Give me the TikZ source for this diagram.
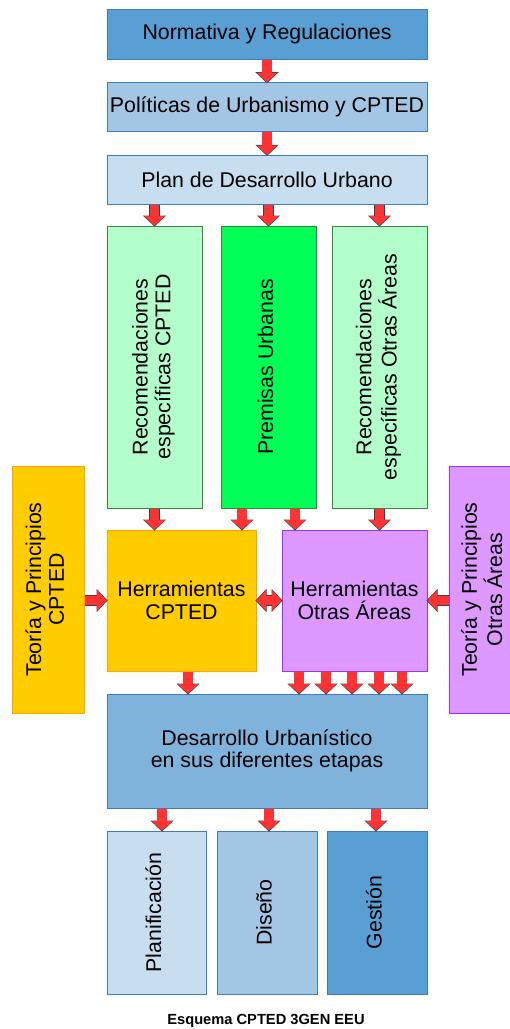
\documentclass[tikz,border=0pt]{standalone}
\usepackage{fontspec}
\setmainfont{Liberation Sans}
\usepackage{graphicx}
\usepackage{tikz}
\usetikzlibrary{positioning,calc,arrows.meta}

\definecolor{azulA}{HTML}{5A9FD4}
\definecolor{azulB}{HTML}{A2C6E4}
\definecolor{azulC}{HTML}{C7DDF0}
\definecolor{azulD}{HTML}{80B3DB}
\definecolor{bordeazul}{HTML}{3B7EB8}
\definecolor{verdeclaro}{HTML}{B3FFCC}
\definecolor{verdevivo}{HTML}{00FF55}
\definecolor{bordeverde}{HTML}{3A873A}
\definecolor{amarillo}{HTML}{FFCC00}
\definecolor{bordeamarillo}{HTML}{FFA500}
\definecolor{lila}{HTML}{DD99FF}
\definecolor{bordelila}{HTML}{9933FF}
\definecolor{rojo}{HTML}{FF3333}

\newcommand{\vtxt}[1]{\rotatebox{90}{\begin{tabular}{@{}c@{}}#1\end{tabular}}}

\tikzset{
  caja/.style={draw, line width=0.75pt, inner sep=0pt, align=center,
    font=\fontsize{16}{17}\selectfont},
  flecha/.style={draw=rojo, line width=7pt, -{Triangle[width=15pt,length=7pt]},
    preaction={draw=black!75, line width=8.2pt,
      -{Triangle[width=17pt,length=8.3pt]}, shorten >=-0.8pt}},
  flechadoble/.style={draw=rojo, line width=7pt,
    {Triangle[width=15pt,length=7pt]}-{Triangle[width=15pt,length=7pt]},
    preaction={draw=black!75, line width=8.2pt,
      {Triangle[width=17pt,length=8.3pt]}-{Triangle[width=17pt,length=8.3pt]},
      shorten >=-0.8pt, shorten <=-0.8pt}},
}

\begin{document}
\begin{tikzpicture}[x=0.75pt,y=-0.75pt]
  \useasboundingbox (0,0) rectangle (510,1029);

  % niveles superiores
  \node[caja, fill=azulA, draw=bordeazul, minimum width=240pt, minimum height=37.5pt]
    (norm) at (267,34) {Normativa y Regulaciones};
  \node[caja, fill=azulB, draw=bordeazul, minimum width=240pt, minimum height=36.75pt,
    below=17pt of norm] (pol) {Políticas de Urbanismo y CPTED};
  \node[caja, fill=azulC, draw=bordeazul, minimum width=240pt, minimum height=36.75pt,
    below=17pt of pol] (plan) {Plan de Desarrollo Urbano};

  % columnas
  \node[caja, fill=verdeclaro, draw=bordeverde, minimum width=71.25pt, minimum height=211.5pt]
    (recc) at (154.5,367) {\vtxt{Recomendaciones\\específicas CPTED}};
  \node[caja, fill=verdevivo, draw=bordeverde, minimum width=71.25pt, minimum height=211.5pt]
    (prem) at (268.5,367) {\vtxt{Premisas Urbanas}};
  \node[caja, fill=verdeclaro, draw=bordeverde, minimum width=71.25pt, minimum height=211.5pt]
    (reco) at (379.5,367) {\vtxt{Recomendaciones\\específicas Otras Áreas}};

  % teoria y herramientas
  \node[caja, fill=amarillo, draw=bordeamarillo, minimum width=54pt, minimum height=185.25pt]
    (teoc) at (48,589.5) {\vtxt{Teoría y Principios\\CPTED}};
  \node[caja, fill=lila, draw=bordelila, minimum width=54pt, minimum height=185.25pt]
    (teoo) at (485,589.5) {\vtxt{Teoría y Principios\\Otras Áreas}};
  \node[caja, fill=amarillo, draw=bordeamarillo, minimum width=111.75pt, minimum height=105.75pt]
    (herc) at (181.5,600.5) {Herramientas\\CPTED};
  \node[caja, fill=lila, draw=bordelila, minimum width=108.75pt, minimum height=105.75pt]
    (hero) at (354.5,600.5) {Herramientas\\Otras Áreas};

  % desarrollo y etapas
  \node[caja, fill=azulD, draw=bordeazul, minimum width=240pt, minimum height=85.5pt]
    (desa) at (267,751) {Desarrollo Urbanístico\\en sus diferentes etapas};
  \node[caja, fill=azulC, draw=bordeazul, minimum width=74.25pt, minimum height=122.25pt]
    (plani) at (156.5,912.5) {\vtxt{Planificación}};
  \node[caja, fill=azulB, draw=bordeazul, minimum width=75pt, minimum height=122.25pt]
    (dise) at (267,912.5) {\vtxt{Diseño}};
  \node[caja, fill=azulA, draw=bordeazul, minimum width=75pt, minimum height=122.25pt]
    (gest) at (377,912.5) {\vtxt{Gestión}};

  \node[anchor=base, font=\fontsize{11}{13}\selectfont\bfseries]
    (titulo) at (266,1024) {Esquema CPTED 3GEN EEU};

  % flechas
  \draw[flecha] (norm) -- (pol);
  \draw[flecha] (pol) -- (plan);
  \foreach \c in {recc,prem,reco}
    \draw[flecha] (plan.south -| \c.north) -- (\c.north);

  \draw[flecha] (recc.south) -- (recc.south |- herc.north);
  \coordinate (p1) at ($(prem.south)+(-26.5,0)$);
  \coordinate (p2) at ($(prem.south)+(26.5,0)$);
  \draw[flecha] (p1) -- (p1 |- herc.north);
  \draw[flecha] (p2) -- (p2 |- hero.north);
  \draw[flecha] (reco.south) -- (reco.south |- hero.north);

  \draw[flecha] (herc.west -| teoc.east) -- (herc.west);
  \draw[flechadoble] (herc.east) -- (hero.west);
  \draw[flecha] (hero.east -| teoo.west) -- (hero.east);

  \coordinate (h0) at ($(herc.south)+(6.5,0)$);
  \draw[flecha] (h0) -- (h0 |- desa.north);
  \foreach \dx in {-55.5,-28.5,-2.5,24.5,47.5} {
    \coordinate (h) at ($(hero.south)+(\dx,0)$);
    \draw[flecha] (h) -- (h |- desa.north);
  }

  \foreach \c/\dx in {plani/5.5,dise/2,gest/-1} {
    \coordinate (d) at ($(\c.north)+(\dx,0)$);
    \draw[flecha] (d |- desa.south) -- (d);
  }
\end{tikzpicture}
\end{document}
